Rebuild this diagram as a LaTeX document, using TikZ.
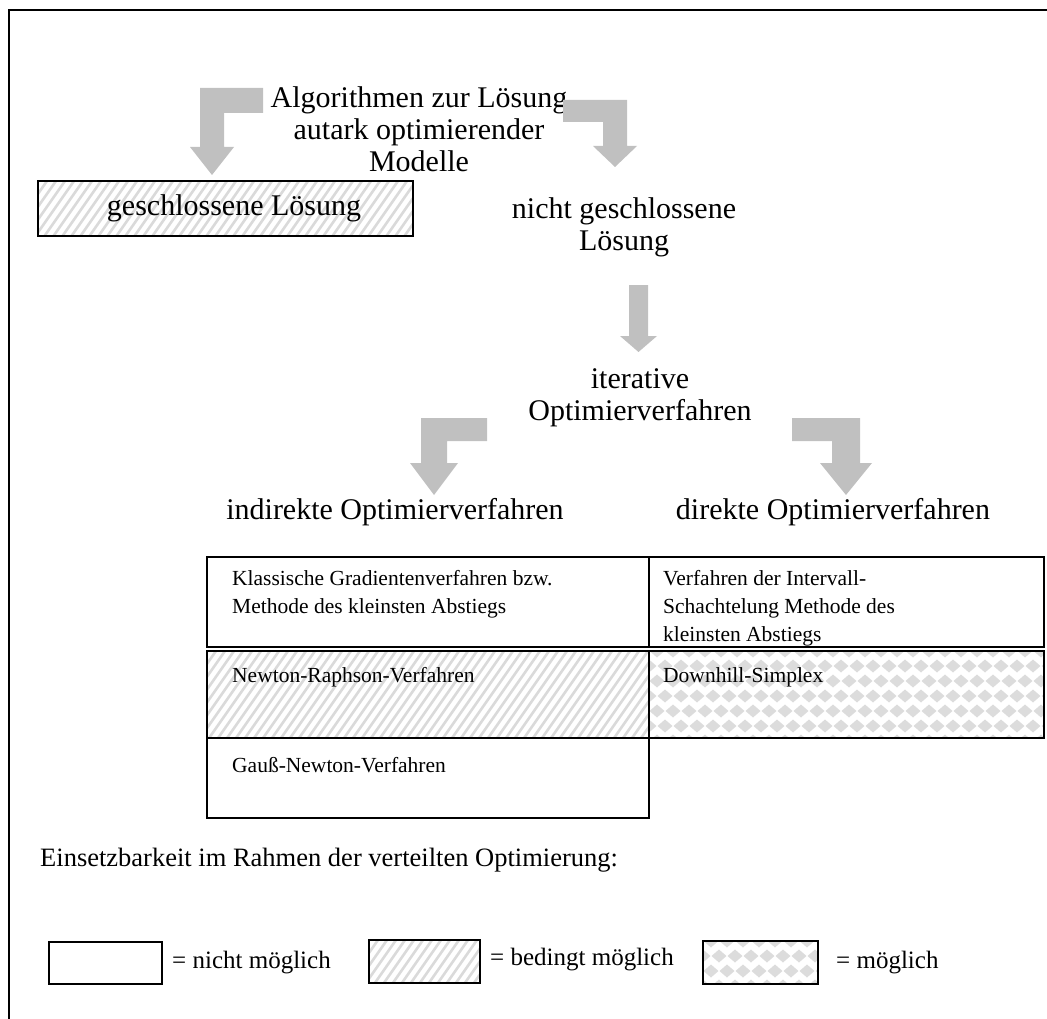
\documentclass[tikz,border=0pt]{standalone}
\usepackage{fontspec}
\setmainfont{Liberation Serif}
\definecolor{arrowgray}{HTML}{C0C0C0}
\definecolor{hatchgray}{HTML}{DADADA}
\definecolor{diagray}{HTML}{DCDCDC}
\newcommand\hatchbox[4]{%
  \begin{scope}
    \clip (#1,#2) rectangle (#3,#4);
    \pgfmathsetmacro\hH{#4-#2}
    \pgfmathsetmacro\hD{\hH*0.7}
    \pgfmathsetmacro\hS{#1-\hD}
    \pgfmathsetmacro\hN{\hS+9}
    \foreach \xx in {\hS,\hN,...,#3} \draw[stripe] (\xx,#4) -- ++(\hD,-\hH);
  \end{scope}}
\newcommand\diabox[4]{%
  \begin{scope}
    \clip (#1,#2) rectangle (#3,#4);
    \pgfmathsetmacro\dXa{#1+16}
    \pgfmathsetmacro\dXe{#3+16}
    \pgfmathsetmacro\dYa{#2+15}
    \pgfmathsetmacro\dYe{#4+15}
    \foreach \yy [count=\rr] in {#2,\dYa,...,\dYe}{
      \pgfmathsetmacro\dOff{mod(\rr,2)*8}
      \foreach \xx in {#1,\dXa,...,\dXe}{
        \fill[diagray] (\xx+\dOff,\yy) +(-7.5,0) -- +(0,-6.5) -- +(7.5,0) -- +(0,6.5) -- cycle;
      }
    }
  \end{scope}}
\begin{document}
\begin{tikzpicture}[x=1pt,y=-1pt,
  blockarrow/.style={fill=arrowgray,draw=none},
  bigtext/.style={font=\fontsize{30}{32}\selectfont, inner sep=0pt, align=center},
  smalltext/.style={font=\fontsize{21.5}{28}\selectfont, inner sep=0pt, align=left},
  legtext/.style={font=\fontsize{25}{28}\selectfont, inner sep=0pt, align=left},
  cell/.style={draw=black, line width=1.6pt},
  stripe/.style={draw=hatchgray, line width=2.6pt},
]
\useasboundingbox (0,0) rectangle (1047,1019);
% frame
\draw[line width=1.8pt] (1047,10) -- (9,10) -- (9,1019);

% title
\node[bigtext] (root) at (419,129) {Algorithmen zur Lösung\\autark optimierender\\Modelle};

% closed solution box
\hatchbox{38}{181}{413}{236}
\draw[cell] (38,181) rectangle (413,236);
\node[bigtext] (closed) at (234,208) {geschlossene Lösung};

\node[bigtext] (open) at (624,227) {nicht geschlossene\\Lösung};
\node[bigtext] (iter) at (640,398) {iterative\\Optimierverfahren};

% block arrows
\fill[blockarrow] (263,88) -- (200,88) -- (200,147) -- (190,147) -- (212,175) -- (234,147) -- (224,147) -- (224,113) -- (263,113) -- cycle;
\fill[blockarrow] (563,100) -- (627,100) -- (627,146) -- (637,146) -- (615,167) -- (593,146) -- (603,146) -- (603,122) -- (563,122) -- cycle;
\fill[blockarrow] (629,285) -- (648,285) -- (648,336) -- (657,336) -- (638.5,352) -- (620,336) -- (629,336) -- cycle;
\fill[blockarrow] (487,418) -- (421,418) -- (421,463) -- (410,463) -- (434,495) -- (458,463) -- (447,463) -- (447,441) -- (487,441) -- cycle;
\fill[blockarrow] (792,418) -- (860,418) -- (860,463) -- (872,463) -- (846,495) -- (820,463) -- (832,463) -- (832,441) -- (792,441) -- cycle;

\node[bigtext] (indirect) at (395,512) {indirekte Optimierverfahren};
\node[bigtext] (direct) at (833,512) {direkte Optimierverfahren};

% table
\draw[cell] (207,557) rectangle (649,647);
\draw[cell] (649,557) rectangle (1044,647);
\hatchbox{207}{651}{649}{738}
\draw[cell] (207,651) rectangle (649,818);
\draw[cell] (207,738) -- (649,738);
\diabox{649}{651}{1044}{738}
\draw[cell] (649,651) rectangle (1044,738);

\node[smalltext, anchor=west] (grad) at (232,594) {Klassische Gradientenverfahren bzw.\\Methode des kleinsten Abstiegs};
\node[smalltext, anchor=west] (interval) at (663,608) {Verfahren der Intervall-\\Schachtelung Methode des\\kleinsten Abstiegs};
\node[smalltext, anchor=west] (newton) at (232,677) {Newton-Raphson-Verfahren};
\node[smalltext, anchor=west] (simplex) at (663,677) {Downhill-Simplex};
\node[smalltext, anchor=west] (gauss) at (232,765) {Gauß-Newton-Verfahren};

% legend
\node[legtext, anchor=west, font=\fontsize{26.5}{30}\selectfont] (legtitle) at (40,860) {Einsetzbarkeit im Rahmen der verteilten Optimierung:};
\draw[cell] (49,942) rectangle (162,984);
\node[legtext, anchor=west] (leg1) at (172,963) {= nicht möglich};
\hatchbox{369}{940}{480}{983}
\draw[cell] (369,940) rectangle (480,983);
\node[legtext, anchor=west] (leg2) at (490,960) {= bedingt möglich};
\diabox{703}{941}{818}{984}
\draw[cell] (703,941) rectangle (818,984);
\node[legtext, anchor=west] (leg3) at (836,963) {= möglich};
\end{tikzpicture}
\end{document}
